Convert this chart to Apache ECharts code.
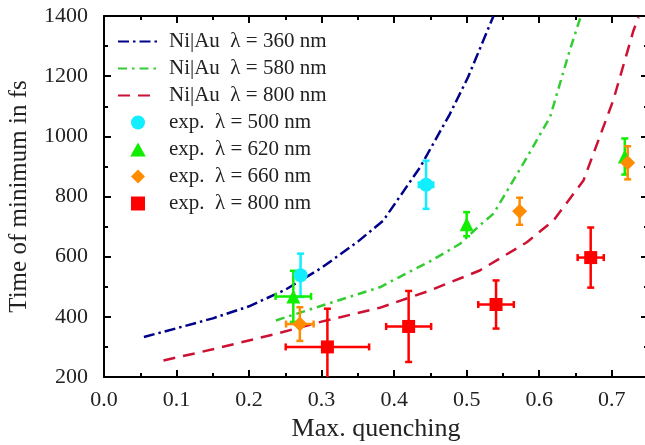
<!DOCTYPE html>
<html>
<head>
<meta charset="utf-8">
<script src="https://cdn.jsdelivr.net/npm/echarts@6/dist/echarts.min.js"></script>
<style>
  html, body { margin: 0; padding: 0; background: #fff; overflow: hidden; }
  #chart { width: 645px; height: 445px; }
</style>
</head>
<body>
<div id="chart"></div>
<script>
// model curves (Ni|Au)
const ni360X = [0.055, 0.10, 0.15, 0.20, 0.25, 0.30, 0.35, 0.385, 0.436, 0.477, 0.502, 0.523, 0.537];
const ni360Y = [333, 362, 395, 435, 490, 563, 650, 720, 898, 1075, 1197, 1319, 1400];
const ni580X = [0.237, 0.30, 0.381, 0.394, 0.45, 0.491, 0.518, 0.537, 0.578, 0.615, 0.642, 0.657];
const ni580Y = [388, 437, 499, 516, 585, 643, 704, 743, 909, 1064, 1285, 1396];
const ni800X = [0.082, 0.15, 0.238, 0.30, 0.38, 0.45, 0.518, 0.583, 0.62, 0.661, 0.702, 0.73, 0.737];
const ni800Y = [255, 292, 344, 384, 430, 488, 554, 648, 721, 853, 1119, 1352, 1396];

// experiment points: x, y, x error, y error
const exp500X = [0.271, 0.444];
const exp500Y = [538, 839];
const exp500Dx = [0.006, 0.01];
const exp500Dy = [72, 80];

const exp620X = [0.261, 0.5, 0.718];
const exp620Y = [468, 708, 933];
const exp620Dx = [0.0245, 0.003, 0.003];
const exp620Dy = [85, 40, 60];

const exp660X = [0.27, 0.573, 0.722];
const exp660Y = [376, 751, 912];
const exp660Dx = [0.019, 0.005, 0.005];
const exp660Dy = [56, 45, 55];

const exp800X = [0.308, 0.42, 0.5405, 0.671];
const exp800Y = [300, 368, 441, 597];
const exp800Dx = [0.0575, 0.031, 0.0245, 0.018];
const exp800Dy = [127, 118, 80, 100];

const xMajor = [0, 0.1, 0.2, 0.3, 0.4, 0.5, 0.6, 0.7];

const lineNames = ['Ni|Au  λ = 360 nm', 'Ni|Au  λ = 580 nm', 'Ni|Au  λ = 800 nm'];
const expNames = ['exp.  λ = 500 nm', 'exp.  λ = 620 nm', 'exp.  λ = 660 nm', 'exp.  λ = 800 nm'];
// legend icons as paths so they keep their aspect
const expIcons = ['circle', 'path://M5,0L10,9L0,9Z', 'path://M5,0L10,5L5,10L0,5Z', 'path://M0,0H10V10H0Z'];

const FONT = "'Liberation Serif', serif";
const pairs = (xs, ys) => xs.map((x, i) => [x, ys[i]]);
const errData = (xs, ys, dx, dy) => xs.map((x, i) => [x, ys[i], dx[i], dy[i]]);

function errRender(params, api) {
    const x = api.value(0), y = api.value(1), dx = api.value(2), dy = api.value(3);
    const l = api.coord([x - dx, y]), r = api.coord([x + dx, y]);
    const t = api.coord([x, y + dy]), b = api.coord([x, y - dy]);
    const cap = 3.5;
    const style = { stroke: api.visual('color'), lineWidth: 2.5 };
    const seg = (x1, y1, x2, y2) => ({ type: 'line', shape: { x1, y1, x2, y2 }, style });
    const kids = [
        seg(t[0], t[1], b[0], b[1]),
        seg(t[0] - cap, t[1], t[0] + cap, t[1]),
        seg(b[0] - cap, b[1], b[0] + cap, b[1])
    ];
    if (r[0] - l[0] > 10) {
        kids.push(seg(l[0], l[1], r[0], r[1]));
        kids.push(seg(l[0], l[1] - cap, l[0], l[1] + cap));
        kids.push(seg(r[0], r[1] - cap, r[0], r[1] + cap));
    }
    return { type: 'group', children: kids };
}

const lineSeries = (name, xs, ys, color, dash) => ({
    name, type: 'line', data: pairs(xs, ys), symbol: 'none', showSymbol: false,
    lineStyle: { color, width: 2.5, type: dash, cap: 'butt' },
    itemStyle: { color }, z: 2, silent: true
});
const errSeries = (xs, ys, dx, dy, color) => ({
    type: 'custom', renderItem: errRender, data: errData(xs, ys, dx, dy),
    itemStyle: { color }, clip: true, z: 3, silent: true
});
const dotSeries = (name, xs, ys, color, symbol, size) => ({
    name, type: 'scatter', data: pairs(xs, ys), symbol, symbolSize: size, symbolKeepAspect: true,
    itemStyle: { color, opacity: 1 }, z: 4, silent: true
});

const axisLine = { show: true, onZero: false, lineStyle: { color: '#000', width: 2 } };
const label = { fontFamily: FONT, fontSize: 22, color: '#222' };
const gridBox = { left: 104, right: -3, top: 16, bottom: 68, outerBoundsMode: 'none', containLabel: false };

const chart = echarts.init(document.getElementById('chart'));
chart.setOption({
    animation: false,
    backgroundColor: '#fff',
    grid: [Object.assign({}, gridBox), Object.assign({}, gridBox)],
    legend: {
        orient: 'vertical', left: 112, top: 26,
        itemWidth: 40, itemHeight: 14, itemGap: 6, symbolKeepAspect: true,
        textStyle: { fontFamily: FONT, fontSize: 21, color: '#222', lineHeight: 20, padding: [0, 0, 0, 6] },
        data: lineNames.map(name => ({ name, itemStyle: { opacity: 0 } }))
            .concat(expNames.map((name, i) => ({ name, icon: expIcons[i] })))
    },
    xAxis: [
        {
            type: 'value', gridIndex: 0, position: 'bottom', min: 0, max: 0.75, interval: 0.1,
            axisLine, splitLine: { show: false },
            axisTick: { inside: true, length: 7, lineStyle: { width: 2, color: '#000' }, customValues: xMajor },
            axisLabel: Object.assign({ margin: 12, customValues: xMajor, formatter: v => v.toFixed(1) }, label),
            name: 'Max. quenching', nameLocation: 'middle', nameGap: 38,
            nameTextStyle: { fontFamily: FONT, fontSize: 26, color: '#222' }
        },
        {
            type: 'value', gridIndex: 0, position: 'top', min: 0, max: 0.75, interval: 0.1,
            axisLine, splitLine: { show: false }, axisLabel: { show: false },
            axisTick: { inside: true, length: 7, lineStyle: { width: 2, color: '#000' }, customValues: xMajor }
        },
        {
            type: 'value', gridIndex: 1, position: 'bottom', min: 0, max: 0.75, interval: 0.05,
            axisLine: { show: false }, splitLine: { show: false }, axisLabel: { show: false },
            axisTick: { inside: true, length: 4, lineStyle: { width: 2, color: '#000' } }
        },
        {
            type: 'value', gridIndex: 1, position: 'top', min: 0, max: 0.75, interval: 0.05,
            axisLine: { show: false }, splitLine: { show: false }, axisLabel: { show: false },
            axisTick: { inside: true, length: 4, lineStyle: { width: 2, color: '#000' } }
        }
    ],
    yAxis: [
        {
            type: 'value', gridIndex: 0, position: 'left', min: 200, max: 1400, interval: 200,
            axisLine, splitLine: { show: false },
            axisTick: { inside: true, length: 7, lineStyle: { width: 2, color: '#000' } },
            minorTick: { show: true, splitNumber: 2, length: 4, lineStyle: { width: 2, color: '#000' } },
            axisLabel: Object.assign({ margin: 16, formatter: v => String(v) }, label),
            name: 'Time of minimum in fs', nameLocation: 'middle', nameGap: 72,
            nameTextStyle: { fontFamily: FONT, fontSize: 25, color: '#222' }
        },
        {
            type: 'value', gridIndex: 0, position: 'right', min: 200, max: 1400, interval: 200,
            axisLine, splitLine: { show: false }, axisLabel: { show: false },
            axisTick: { inside: true, length: 7, lineStyle: { width: 2, color: '#000' } },
            minorTick: { show: true, splitNumber: 2, length: 4, lineStyle: { width: 2, color: '#000' } }
        },
        { type: 'value', gridIndex: 1, min: 200, max: 1400, show: false }
    ],
    series: [
        lineSeries(lineNames[0], ni360X, ni360Y, '#000088', [11, 4, 2.5, 4]),
        lineSeries(lineNames[1], ni580X, ni580Y, '#33cc33', [9, 5, 2.5, 5]),
        lineSeries(lineNames[2], ni800X, ni800Y, '#cc1133', [12, 8]),
        errSeries(exp500X, exp500Y, exp500Dx, exp500Dy, '#11eeff'),
        errSeries(exp620X, exp620Y, exp620Dx, exp620Dy, '#11ee00'),
        errSeries(exp660X, exp660Y, exp660Dx, exp660Dy, '#ff8c00'),
        errSeries(exp800X, exp800Y, exp800Dx, exp800Dy, '#ff0000'),
        dotSeries(expNames[0], exp500X, exp500Y, '#11eeff', 'circle', 14),
        dotSeries(expNames[1], exp620X, exp620Y, '#11ee00', 'triangle', 14),
        dotSeries(expNames[2], exp660X, exp660Y, '#ff8c00', 'diamond', 15),
        dotSeries(expNames[3], exp800X, exp800Y, '#ff0000', 'rect', 13)
    ]
});
</script>
</body>
</html>
